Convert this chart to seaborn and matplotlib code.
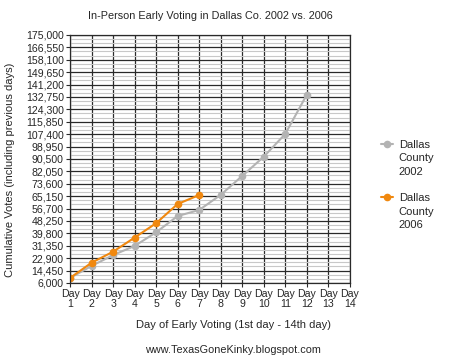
import pandas as pd
import numpy as np
import matplotlib
matplotlib.use("Agg")
import matplotlib.pyplot as plt
from matplotlib.lines import Line2D
import seaborn as sns

days = list(range(1, 15))
day_labels = [f"Day\n{d}" for d in days]
y_ticks = [6000 + 8450 * i for i in range(21)]

days_2002 = [1, 2, 3, 4, 5, 6, 7, 8, 9, 10, 11, 12]
votes_2002 = [9400, 17600, 25000, 31200, 40500, 51600, 55700, 66000, 78900, 92000, 107500, 134200]
days_2006 = [1, 2, 3, 4, 5, 6, 7]
votes_2006 = [9400, 19800, 27300, 36900, 46700, 59800, 65900]

df = pd.concat([
    pd.DataFrame({'Day': days_2002, 'Votes': votes_2002, 'Series': '2002'}),
    pd.DataFrame({'Day': days_2006, 'Votes': votes_2006, 'Series': '2006'}),
])

sns.set_style("white")
plt.rcParams['font.family'] = ['Liberation Sans', 'DejaVu Sans']

fig = plt.figure(figsize=(4.67, 3.6), dpi=100)
ax = fig.add_axes([0.150, 0.214, 0.599, 0.689])

palette = {'2002': '#b3b3b3', '2006': '#f0880f'}
sns.lineplot(data=df, x='Day', y='Votes', hue='Series', palette=palette,
             marker='o', markersize=5.5, markeredgewidth=0, linewidth=1.5, ax=ax)

ax.set_xlim(1, 14)
ax.set_ylim(6000, 175000)
ax.set_xticks(days)
ax.set_xticklabels(day_labels, linespacing=0.95)
ax.set_yticks(y_ticks)
ax.set_yticklabels([f"{v:,}" for v in y_ticks])
ax.set_yticks([v + 8450 * k / 3 for v in y_ticks[:-1] for k in (1, 2)], minor=True)

ax.grid(True, which='major', color='#2a2a2a', linewidth=0.9, linestyle='-')
ax.grid(True, which='minor', axis='y', color='#c8c8c8', linewidth=0.8, linestyle='-')
ax.set_axisbelow(True)
for s in ax.spines.values():
    s.set_color('#2a2a2a')
    s.set_linewidth(0.9)

ax.tick_params(axis='both', which='major', labelsize=7.6, length=3, width=0.8,
               color='#2a2a2a', direction='out', pad=1.5, left=True, bottom=True)
ax.tick_params(axis='y', which='minor', length=0)

ax.set_xlabel('Day of Early Voting (1st day - 14th day)', fontsize=8)
ax.xaxis.set_label_coords(0.585, -0.15)
ax.set_ylabel('Cumulative Votes (including previous days)', fontsize=8)
ax.yaxis.set_label_coords(-0.197, 0.456)
ax.set_title('In-Person Early Voting in Dallas Co. 2002 vs. 2006', fontsize=7.8, pad=11.5)

# legend: marker sits beside the first line of each three-line label
handles, labels = ax.get_legend_handles_labels()
ax.get_legend().remove()
blank = Line2D([], [], alpha=0)
leg_handles, leg_labels = [], []
for h, lab in zip(handles, labels):
    if leg_handles:
        leg_handles.append(blank)
        leg_labels.append(' ')
    leg_handles += [h, blank, blank]
    leg_labels += ['Dallas', 'County', lab]
leg = fig.legend(leg_handles, leg_labels, loc='upper left',
                 bbox_to_anchor=(381 / 467, 1 - 140 / 360), frameon=False,
                 fontsize=8, handlelength=1.05, handleheight=0.7, labelspacing=0.3,
                 handletextpad=0.55, borderpad=0, borderaxespad=0)

fig.text(0.499, 1 - 350 / 360, 'www.TexasGoneKinky.blogspot.com', ha='center', va='center', fontsize=7.8)

fig.savefig('out.png', dpi=100)
